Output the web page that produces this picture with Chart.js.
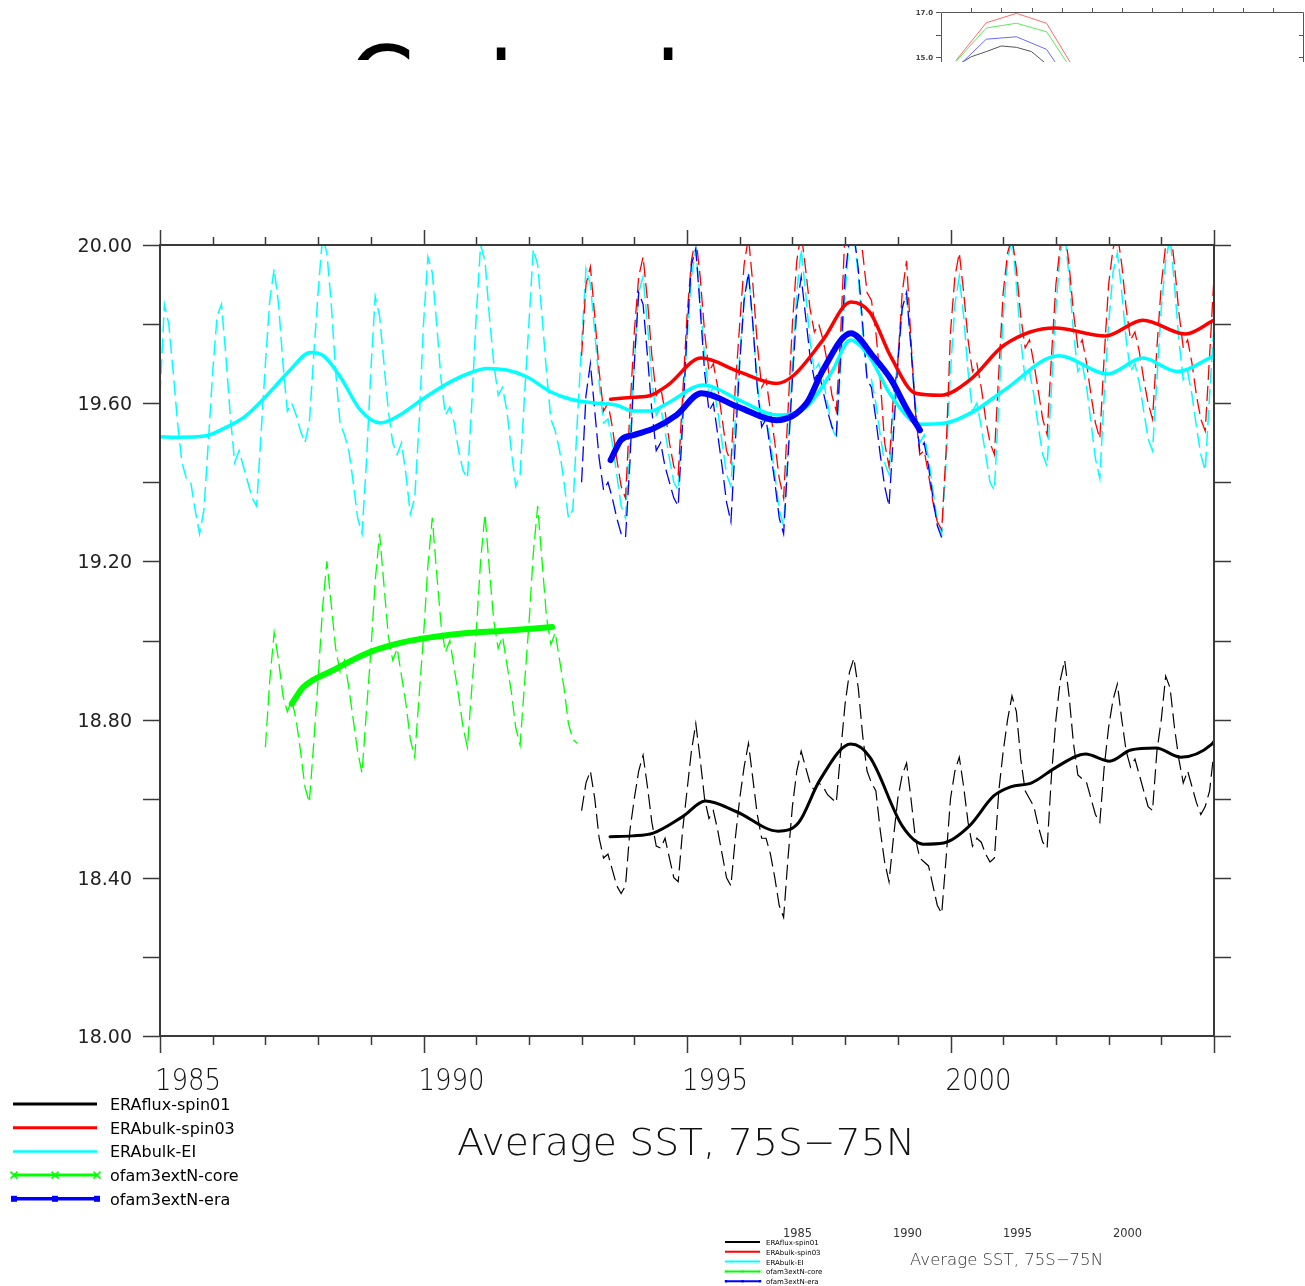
<!DOCTYPE html>
<html>
<head>
<meta charset="utf-8">
<title>Average SST, 75S-75N</title>
<script src="https://cdn.jsdelivr.net/npm/chart.js@4.4.1/dist/chart.umd.min.js"></script>
<style>
  html, body { margin: 0; padding: 0; background: #fff; }
  body { width: 1305px; height: 1286px; position: relative; overflow: hidden; }
  #main { position: absolute; left: 0; top: 0; }
  #inset { position: absolute; left: 900px; top: 0; width: 405px; height: 62px; overflow: hidden; background: #fff; }
  #heading { position: absolute; left: 0; top: 0; width: 900px; height: 60px; overflow: hidden; }
  #heading span { position: absolute; top: 34px; font: 95px/95px "DejaVu Sans"; color: #000; }
</style>
</head>
<body>
<canvas id="main" width="1305" height="1286"></canvas>
<div id="heading"><span style="left:348px">C</span><span style="left:488px">t</span><span style="left:655px">t</span></div>
<div id="inset"><canvas id="insetCanvas" width="405" height="300"></canvas></div>
<script>
// axis labels
const xTickYears = [1985, 1990, 1995, 2000];
const yTickValues = [20.0, 19.6, 19.2, 18.8, 18.4, 18.0];
const yTickLabels = ['20.00', '19.60', '19.20', '18.80', '18.40', '18.00'];
const seriesNames = ['ERAflux-spin01', 'ERAbulk-spin03', 'ERAbulk-EI', 'ofam3extN-core', 'ofam3extN-era'];
const xTitle = 'Average SST, 75S\u221275N';

// monthly values (dashed), one row per year
const fluxStart = 1993;
const fluxMonthly = [
  18.57,18.64,18.67,18.60,18.50,18.45,18.46,18.42,18.38,18.36,18.38,18.52,
  18.60,18.67,18.71,18.63,18.54,18.48,18.475,18.50,18.45,18.40,18.39,18.52,
  18.62,18.72,18.79,18.70,18.60,18.55,18.57,18.52,18.46,18.40,18.38,18.50,
  18.60,18.68,18.74,18.65,18.56,18.50,18.50,18.46,18.40,18.33,18.30,18.45,
  18.58,18.67,18.72,18.68,18.64,18.62,18.64,18.63,18.61,18.60,18.59,18.72,
  18.84,18.92,18.955,18.88,18.76,18.67,18.64,18.62,18.52,18.44,18.39,18.50,
  18.60,18.66,18.69,18.60,18.50,18.45,18.44,18.43,18.38,18.33,18.31,18.45,
  18.60,18.67,18.705,18.63,18.54,18.48,18.50,18.49,18.46,18.44,18.45,18.62,
  18.72,18.80,18.86,18.82,18.70,18.62,18.60,18.58,18.53,18.49,18.475,18.66,
  18.80,18.90,18.95,18.86,18.74,18.66,18.65,18.64,18.60,18.56,18.54,18.68,
  18.78,18.85,18.89,18.80,18.72,18.68,18.70,18.66,18.62,18.58,18.57,18.72,
  18.80,18.91,18.88,18.78,18.70,18.64,18.67,18.63,18.59,18.56,18.58,18.62,
  18.72
];

const bulkStart = 1993;
const bulkMonthly = [
  19.72,19.90,19.945,19.82,19.68,19.58,19.60,19.54,19.46,19.39,19.36,19.58,
  19.78,19.92,19.97,19.86,19.72,19.62,19.64,19.58,19.50,19.44,19.42,19.62,
  19.82,19.96,20.02,19.92,19.78,19.68,19.70,19.64,19.56,19.48,19.45,19.64,
  19.80,19.95,20.02,19.90,19.75,19.64,19.66,19.58,19.50,19.41,19.36,19.58,
  19.80,19.96,20.03,19.94,19.84,19.78,19.80,19.76,19.70,19.62,19.58,19.78,
  20.04,20.10,20.12,20.06,19.98,19.88,19.86,19.78,19.66,19.50,19.44,19.62,
  19.70,19.88,19.96,19.76,19.58,19.47,19.48,19.42,19.35,19.30,19.28,19.48,
  19.78,19.92,19.98,19.88,19.76,19.68,19.70,19.64,19.56,19.50,19.47,19.68,
  19.88,19.98,20.02,19.94,19.82,19.74,19.76,19.70,19.63,19.56,19.52,19.72,
  19.90,20.00,20.04,19.95,19.83,19.74,19.76,19.70,19.62,19.55,19.51,19.72,
  19.90,19.99,20.03,19.95,19.84,19.76,19.78,19.73,19.66,19.60,19.56,19.74,
  19.90,20.00,20.05,19.95,19.83,19.74,19.76,19.70,19.62,19.56,19.53,19.72,
  19.92
];

const eiStart = 1985;
const eiMonthly = [
  19.62,19.85,19.80,19.68,19.55,19.45,19.41,19.40,19.33,19.27,19.33,19.50,
  19.68,19.82,19.85,19.72,19.57,19.45,19.48,19.44,19.40,19.36,19.34,19.52,
  19.70,19.86,19.94,19.85,19.70,19.58,19.60,19.57,19.53,19.50,19.55,19.72,
  19.88,20.02,19.98,19.85,19.68,19.55,19.52,19.48,19.40,19.31,19.27,19.45,
  19.68,19.87,19.82,19.70,19.58,19.50,19.47,19.50,19.42,19.32,19.36,19.55,
  19.80,19.97,19.93,19.80,19.66,19.57,19.59,19.55,19.48,19.43,19.41,19.60,
  19.82,20.00,19.96,19.82,19.70,19.62,19.64,19.58,19.48,19.39,19.42,19.62,
  19.80,19.99,19.95,19.82,19.68,19.56,19.53,19.48,19.40,19.31,19.33,19.55,
  19.75,19.94,19.90,19.78,19.65,19.55,19.56,19.50,19.42,19.34,19.31,19.50,
  19.70,19.88,19.92,19.80,19.66,19.57,19.59,19.53,19.46,19.40,19.38,19.58,
  19.76,19.92,19.99,19.86,19.72,19.62,19.64,19.58,19.50,19.42,19.39,19.56,
  19.72,19.86,19.93,19.80,19.65,19.55,19.57,19.50,19.42,19.33,19.29,19.48,
  19.70,19.88,19.99,19.88,19.76,19.68,19.70,19.66,19.60,19.54,19.51,19.70,
  19.88,20.02,20.03,19.92,19.78,19.66,19.66,19.60,19.52,19.45,19.42,19.58,
  19.72,19.84,19.87,19.75,19.60,19.50,19.52,19.46,19.38,19.30,19.27,19.45,
  19.68,19.85,19.92,19.82,19.68,19.58,19.60,19.54,19.47,19.40,19.38,19.60,
  19.82,19.96,20.02,19.90,19.76,19.66,19.68,19.62,19.54,19.47,19.44,19.64,
  19.84,19.98,20.03,19.92,19.78,19.68,19.70,19.64,19.55,19.46,19.41,19.62,
  19.80,19.93,19.98,19.88,19.76,19.68,19.70,19.65,19.58,19.51,19.48,19.66,
  19.84,19.96,20.02,19.90,19.76,19.66,19.68,19.62,19.54,19.47,19.43,19.62,
  19.80
];

const coreStart = 1987;
const coreMonthly = [
  18.73,18.90,19.02,18.95,18.86,18.82,18.85,18.80,18.72,18.63,18.59,18.74,
  18.90,19.08,19.20,19.09,18.98,18.92,18.95,18.88,18.80,18.72,18.665,18.82,
  18.97,19.15,19.27,19.14,19.01,18.95,18.98,18.91,18.84,18.75,18.705,18.86,
  19.01,19.19,19.31,19.17,19.04,18.97,19.00,18.93,18.86,18.78,18.73,18.88,
  19.02,19.20,19.32,19.18,19.05,18.98,19.01,18.94,18.87,18.78,18.735,18.89,
  19.04,19.22,19.34,19.20,19.06,18.99,19.02,18.95,18.88,18.79,18.75,18.74
];

const eraStart = 1993;
const eraMonthly = [
  19.40,19.62,19.70,19.58,19.46,19.38,19.40,19.36,19.31,19.27,19.26,19.45,
  19.70,19.88,19.85,19.72,19.58,19.48,19.50,19.44,19.40,19.36,19.34,19.55,
  19.78,19.95,19.99,19.84,19.68,19.58,19.60,19.52,19.44,19.35,19.30,19.50,
  19.70,19.86,19.93,19.80,19.64,19.54,19.56,19.48,19.40,19.31,19.27,19.46,
  19.66,19.84,19.92,19.82,19.72,19.66,19.68,19.63,19.58,19.54,19.52,19.72,
  19.92,20.02,20.03,19.94,19.80,19.66,19.64,19.56,19.47,19.39,19.34,19.52,
  19.70,19.84,19.88,19.74,19.58,19.48,19.50,19.44,19.36,19.29,19.26
];

// 12-month running means (solid)
const fluxSmoothYears = [1993.54,1993.96,1994.36,1994.91,1995.35,1995.94,1996.73,1997.12,1997.52,1998.11,1998.47,1999.09,1999.49,1999.87,2000.35,2000.82,2001.14,2001.54,2002.01,2002.56,2003.02,2003.42,2003.90,2004.37,2004.96,2005.0];
const fluxSmoothVals  = [18.504,18.506,18.513,18.554,18.594,18.567,18.518,18.54,18.647,18.738,18.705,18.53,18.485,18.488,18.53,18.607,18.63,18.64,18.68,18.713,18.695,18.723,18.728,18.705,18.738,18.745];

const bulkSmoothYears = [1993.55,1993.98,1994.31,1994.63,1995.27,1995.98,1996.70,1997.02,1997.58,1998.11,1998.47,1998.87,1999.34,1999.81,2000.38,2001.02,2001.98,2002.94,2003.65,2004.46,2005.0];
const bulkSmoothVals  = [19.61,19.615,19.62,19.645,19.714,19.68,19.65,19.67,19.76,19.856,19.83,19.717,19.625,19.62,19.66,19.747,19.79,19.77,19.81,19.775,19.81];

const eiSmoothYears = [1985.0,1985.32,1985.85,1986.27,1986.61,1987.03,1987.47,1987.85,1988.10,1988.42,1988.80,1989.18,1989.50,1990.00,1990.51,1990.89,1991.20,1991.58,1991.96,1992.41,1992.79,1993.29,1993.67,1993.98,1994.31,1994.63,1995.31,1995.99,1996.70,1997.26,1997.75,1998.10,1998.45,1998.87,1999.42,1999.90,2000.45,2001.02,2002.06,2002.98,2003.65,2004.30,2005.0];
const eiSmoothVals  = [19.515,19.514,19.517,19.54,19.566,19.62,19.684,19.728,19.72,19.667,19.583,19.55,19.566,19.612,19.654,19.677,19.688,19.684,19.667,19.629,19.61,19.60,19.595,19.58,19.58,19.60,19.646,19.608,19.57,19.59,19.68,19.76,19.72,19.62,19.547,19.55,19.58,19.633,19.72,19.674,19.714,19.68,19.72];

const coreSmoothYears = [1987.50,1987.72,1988.29,1988.93,1989.56,1990.19,1990.83,1991.46,1992.44];
const coreSmoothVals  = [18.84,18.882,18.925,18.968,18.994,19.009,19.019,19.024,19.034];

const eraSmoothYears = [1993.55,1993.75,1994.00,1994.38,1994.80,1995.27,1995.98,1996.70,1997.27,1997.58,1998.11,1998.54,1998.87,1999.18,1999.42];
const eraSmoothVals  = [19.456,19.507,19.52,19.537,19.57,19.625,19.59,19.557,19.60,19.684,19.777,19.717,19.66,19.583,19.532];

// small climatology panel in the top corner
const insetTickValues = [17, 15];
const insetTickLabels = ['17.0', '15.0'];
const insetMonths = [0.5, 1.5, 2.5, 3.5, 4.5];
const insetRed   = [14.85, 16.52, 16.94, 16.50, 14.28];
const insetGreen = [14.80, 16.29, 16.50, 16.12, 14.10];
const insetBlue  = [14.50, 15.79, 15.90, 15.34, 13.35];
const insetGrayMonths = [0.5, 1.0, 1.5, 2.0, 2.5, 3.0, 3.5];
const insetGray  = [14.60, 15.01, 15.24, 15.49, 15.43, 15.24, 14.68];

function monthly(start, vals) {
  return vals.map((v, i) => ({ x: start + i / 12, y: v }));
}
function pairs(xs, ys) {
  return xs.map((t, i) => ({ x: t, y: ys[i] }));
}

const colors = ['#000000', '#ff0000', '#00ffff', '#00ff00', '#0000ff'];

function dashed(data, color, width, order) {
  return { data, borderColor: color, borderWidth: width, borderDash: [15, 6], pointRadius: 0,
           tension: 0, order, clip: 0 };
}
function solid(data, color, width, order) {
  return { data, borderColor: color, borderWidth: width, pointRadius: 0,
           cubicInterpolationMode: 'monotone', order, clip: 0, borderCapStyle: 'round' };
}

function fitText(ctx, str, x, y, w, font) {
  ctx.font = font;
  const m = ctx.measureText(str).width;
  ctx.save();
  ctx.translate(x, y);
  ctx.scale(w / m, 1);
  ctx.textAlign = 'left';
  ctx.fillText(str, 0, 0);
  ctx.restore();
}

function drawLegendRow(ctx, i, x0, x1, y, lw, scale) {
  ctx.strokeStyle = colors[i];
  ctx.fillStyle = colors[i];
  ctx.lineWidth = lw;
  ctx.beginPath(); ctx.moveTo(x0, y); ctx.lineTo(x1, y); ctx.stroke();
  const marks = [x0 + 1, (x0 + x1) / 2, x1];
  if (i === 3) {
    ctx.lineWidth = 1.5 * scale;
    const s = 3.5 * scale;
    marks.forEach(m => {
      ctx.beginPath();
      ctx.moveTo(m - s, y - s); ctx.lineTo(m + s, y + s);
      ctx.moveTo(m - s, y + s); ctx.lineTo(m + s, y - s);
      ctx.stroke();
    });
  } else if (i === 4) {
    const s = 3 * scale;
    marks.forEach(m => ctx.fillRect(m - s, y - s, 2 * s, 2 * s));
  }
}

const nclFrame = {
  id: 'nclFrame',
  afterDatasetsDraw(chart) {
    const { ctx, chartArea: a, scales } = chart;
    const xs = scales.x, ys = scales.y;
    ctx.save();
    // frame
    ctx.strokeStyle = '#3a3a3a';
    ctx.lineWidth = 2;
    ctx.strokeRect(a.left, a.top, a.right - a.left, a.bottom - a.top);
    // tick marks on all four sides
    ctx.lineWidth = 1.5;
    ctx.beginPath();
    for (let yr = xs.min; yr <= xs.max; yr++) {
      const px = Math.round(xs.getPixelForValue(yr)) + 0.5;
      const major = yr % 5 === 0;
      ctx.moveTo(px, a.bottom); ctx.lineTo(px, a.bottom + (major ? 17 : 9));
      ctx.moveTo(px, a.top); ctx.lineTo(px, a.top - (major ? 15 : 8));
    }
    for (let k = 0; k <= 10; k++) {
      const py = Math.round(ys.getPixelForValue(ys.min + k * 0.2)) + 0.5;
      ctx.moveTo(a.left - 17, py); ctx.lineTo(a.left, py);
      ctx.moveTo(a.right, py); ctx.lineTo(a.right + 17, py);
    }
    ctx.stroke();

    // y labels
    ctx.fillStyle = '#222';
    ctx.font = '19px "DejaVu Sans"';
    ctx.textAlign = 'right';
    ctx.textBaseline = 'alphabetic';
    yTickValues.forEach((v, i) => {
      ctx.fillText(yTickLabels[i], a.left - 28, ys.getPixelForValue(v) + 7);
    });

    // x labels and title
    ctx.fillStyle = '#111';
    xTickYears.forEach(yr => {
      fitText(ctx, String(yr), xs.getPixelForValue(yr) - 5, a.bottom + 54, 66, '200 30px "DejaVu Sans"');
    });
    fitText(ctx, xTitle, 457, a.bottom + 119, 458, '200 38px "DejaVu Sans"');

    // legend
    const widths = [3, 3, 2.5, 3, 3.5];
    seriesNames.forEach((name, i) => {
      const y = 1104 + i * 23.7;
      drawLegendRow(ctx, i, 13, 97, y, widths[i], 1);
      ctx.fillStyle = '#000';
      ctx.font = '16px "DejaVu Sans"';
      ctx.textAlign = 'left';
      ctx.fillText(name, 110, y + 6);
    });

    // reduced copy of the key in the lower right
    seriesNames.forEach((name, i) => {
      const y = 1242 + i * 9.8;
      drawLegendRow(ctx, i, 725, 760, y, 2, 0.4);
      ctx.fillStyle = '#000';
      ctx.font = '7px "DejaVu Sans"';
      ctx.textAlign = 'left';
      ctx.fillText(name, 766, y + 3);
    });
    ctx.fillStyle = '#333';
    xTickYears.forEach((yr, i) => {
      fitText(ctx, String(yr), 783 + i * 110, 1237, 29, '13px "DejaVu Sans"');
    });
    fitText(ctx, xTitle, 910, 1265, 193, '200 16px "DejaVu Sans"');
    ctx.restore();
  }
};

new Chart(document.getElementById('main'), {
  type: 'line',
  data: {
    datasets: [
      dashed(monthly(eiStart, eiMonthly), colors[2], 1.5, 10),
      dashed(monthly(bulkStart, bulkMonthly), colors[1], 1.3, 9),
      dashed(monthly(eraStart, eraMonthly), colors[4], 1.3, 8),
      dashed(monthly(coreStart, coreMonthly), colors[3], 1.3, 7),
      dashed(monthly(fluxStart, fluxMonthly), colors[0], 1.2, 6),
      solid(pairs(eiSmoothYears, eiSmoothVals), colors[2], 3.5, 5),
      solid(pairs(bulkSmoothYears, bulkSmoothVals), colors[1], 3.5, 4),
      solid(pairs(eraSmoothYears, eraSmoothVals), colors[4], 6, 3),
      solid(pairs(coreSmoothYears, coreSmoothVals), colors[3], 6, 2),
      solid(pairs(fluxSmoothYears, fluxSmoothVals), colors[0], 3, 1)
    ]
  },
  options: {
    responsive: false,
    animation: false,
    devicePixelRatio: 1,
    events: [],
    layout: { padding: { left: 160, right: 91, top: 245, bottom: 250 } },
    scales: {
      x: { type: 'linear', min: 1985, max: 2005, display: false },
      y: { type: 'linear', min: 18, max: 20, display: false }
    },
    plugins: { legend: { display: false }, tooltip: { enabled: false } }
  },
  plugins: [nclFrame]
});

// corner panel
const insetFrame = {
  id: 'insetFrame',
  afterDatasetsDraw(chart) {
    const { ctx, chartArea: a, scales } = chart;
    const xs = scales.x, ys = scales.y;
    ctx.save();
    ctx.strokeStyle = '#555';
    ctx.lineWidth = 1;
    ctx.beginPath();
    ctx.moveTo(a.left + 0.5, a.bottom); ctx.lineTo(a.left + 0.5, a.top + 0.5);
    ctx.lineTo(a.right + 0.5, a.top + 0.5); ctx.lineTo(a.right + 0.5, a.bottom);
    for (let m = xs.min + 1; m < xs.max; m++) {
      const px = Math.round(xs.getPixelForValue(m)) + 0.5;
      ctx.moveTo(px, a.top); ctx.lineTo(px, a.top - 4);
    }
    for (let v = ys.max; v >= ys.min; v--) {
      const py = Math.round(ys.getPixelForValue(v)) + 0.5;
      ctx.moveTo(a.left - 5, py); ctx.lineTo(a.left, py);
      ctx.moveTo(a.right - 4, py); ctx.lineTo(a.right, py);
    }
    ctx.stroke();
    ctx.fillStyle = '#444';
    ctx.font = 'bold 7px "DejaVu Sans"';
    ctx.textAlign = 'right';
    ctx.textBaseline = 'middle';
    insetTickValues.forEach((v, i) => ctx.fillText(insetTickLabels[i], a.left - 8, ys.getPixelForValue(v) + 1));
    ctx.restore();
  }
};

function thin(xs, ys, color) {
  return { data: pairs(xs, ys), borderColor: color, borderWidth: 1, pointRadius: 0, tension: 0, clip: 0 };
}

new Chart(document.getElementById('insetCanvas'), {
  type: 'line',
  data: {
    datasets: [
      thin(insetMonths, insetRed, '#ff6a6a'),
      thin(insetMonths, insetGreen, '#5ee85e'),
      thin(insetMonths, insetBlue, '#6a6aff'),
      thin(insetGrayMonths, insetGray, '#555555')
    ]
  },
  options: {
    responsive: false,
    animation: false,
    devicePixelRatio: 1,
    events: [],
    layout: { padding: { left: 41, right: 2, top: 12, bottom: 63 } },
    scales: {
      x: { type: 'linear', min: 0, max: 12, display: false },
      y: { type: 'linear', min: 7, max: 17, display: false }
    },
    plugins: { legend: { display: false }, tooltip: { enabled: false } }
  },
  plugins: [insetFrame]
});
</script>
</body>
</html>
